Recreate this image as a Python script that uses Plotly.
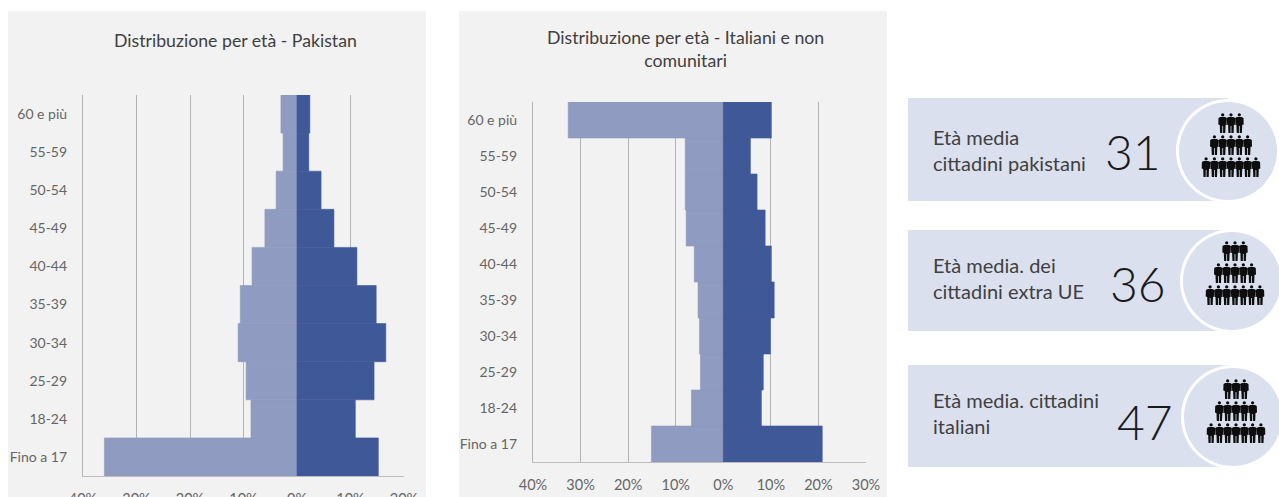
import math
import plotly.graph_objects as go

W, H = 1279, 497
FONT = "Lato"
TXT = "#404040"

age_groups = ["Fino a 17", "18-24", "25-29", "30-34", "35-39", "40-44", "45-49", "50-54", "55-59", "60 e più"]
pk_left = [-36.0, -8.6, -9.5, -11.0, -10.6, -8.4, -6.0, -3.9, -2.6, -3.0]
pk_right = [15.2, 10.9, 14.4, 16.6, 14.8, 11.2, 6.9, 4.5, 2.2, 2.4]
it_left = [-15.1, -6.7, -4.8, -5.0, -5.3, -6.1, -7.8, -8.0, -8.0, -32.6]
it_right = [20.8, 8.0, 8.4, 9.9, 10.7, 10.1, 8.8, 7.1, 5.7, 10.1]
pk_ticks = [-40, -30, -20, -10, 0, 10, 20]
pk_labels = ["40%", "30%", "20%", "10%", "0%", "10%", "20%"]
it_ticks = [-40, -30, -20, -10, 0, 10, 20, 30]
it_labels = ["40%", "30%", "20%", "10%", "0%", "10%", "20%", "30%"]
card_lines = [["Età media", "cittadini pakistani"], ["Età media. dei", "cittadini extra UE"], ["Età media. cittadini", "italiani"]]
card_values = ["31", "36", "47"]


def fx(x):
    return x / W


def fy(y):
    return 1 - y / H


def rect(x0, y0, x1, y1, color, layer="below"):
    return dict(type="rect", xref="paper", yref="paper", x0=fx(x0), x1=fx(x1), y0=fy(y1), y1=fy(y0),
                fillcolor=color, line_width=0, layer=layer)


def circle(cx, cy, r, color):
    return dict(type="circle", xref="paper", yref="paper", x0=fx(cx - r), x1=fx(cx + r), y0=fy(cy + r), y1=fy(cy - r),
                fillcolor=color, line_width=0, layer="below")


def poly(x, y, pts):
    return "M" + " L".join(f"{fx(x + a):.5f},{fy(y + b):.5f}" for a, b in pts) + " Z "


def person(x, y):
    # small pictogram, about 8 px wide and 20 px tall, (x, y) = top centre
    head = [(1.7 * math.cos(k * math.pi / 4), 1.9 + 1.7 * math.sin(k * math.pi / 4)) for k in range(8)]
    body = [(-2.4, 4), (2.4, 4), (4.2, 5), (4.4, 11.5), (2.9, 12), (2.6, 20), (0.4, 20), (0.4, 13), (-0.4, 13),
            (-0.4, 20), (-2.6, 20), (-2.9, 12), (-4.4, 11.5), (-4.2, 5)]
    return poly(x, y, head) + poly(x, y, body)


def icon(cx, top):
    path = ""
    for n, dy in ((3, 0), (5, 22), (7, 44)):
        for i in range(n):
            path += person(cx + (i - (n - 1) / 2) * 8.3, top + dy)
    return dict(type="path", xref="paper", yref="paper", path=path, fillcolor="#0d0d0d", line_width=0, layer="above")


fig = go.Figure()


def add_panel(left, right, xa, ya, rng, ticks, labels):
    for vals, col in ((left, "#8f9bc0"), (right, "#3f5998")):
        fig.add_trace(go.Bar(y=age_groups, x=vals, orientation="h", marker=dict(color=col, line=dict(color=col, width=0.6)),
                             width=1, xaxis=xa, yaxis=ya, showlegend=False, hoverinfo="skip"))
    return dict(range=rng, tickvals=ticks, ticktext=labels, showgrid=True, gridcolor="#b3b3b3", gridwidth=1.2,
                zeroline=False, showline=True, linecolor="#bdbdbd", linewidth=1.2, ticks="", automargin=False,
                ticklabelstandoff=9, tickfont=dict(family=FONT, size=14.5, color="#666666"))


x1 = add_panel(pk_left, pk_right, "x", "y", [-40, 20], pk_ticks, pk_labels)
x2 = add_panel(it_left, it_right, "x2", "y2", [-40, 30], it_ticks, it_labels)


def yaxis(anchor):
    return dict(anchor=anchor, type="category", categoryorder="array", categoryarray=age_groups, showline=True,
                linecolor="#b3b3b3", linewidth=1.2, showgrid=False, ticks="", ticklabelstandoff=12, automargin=False,
                tickfont=dict(family=FONT, size=14, color="#666666"))


shapes = [rect(8, 11, 426, 497, "#f2f2f2"), rect(459, 11, 887, 497, "#f2f2f2")]
anns = [
    dict(text="Distribuzione per età - Pakistan", x=fx(235), y=fy(41), font_size=17.7),
    dict(text="Distribuzione per età - Italiani e non<br>comunitari", x=fx(685), y=fy(49), font_size=17.7),
]

cards = [(98, 201, 1228, 151, 113), (230, 331, 1232, 281, 241), (365, 467, 1233, 417, 379)]
text_y = [150, 278, 413]
num_x = [1133, 1138, 1145]
num_y = [151, 283, 421]
for (y0, y1, cx, cy, top), lines, val, ty, nx, ny in zip(cards, card_lines, card_values, text_y, num_x, num_y):
    shapes += [rect(908, y0, cx, y1, "#dbe0ef"), circle(cx, cy, 52, "#ffffff"), circle(cx, cy, 49, "#dbe0ef"),
               icon(cx + 3, top)]
    anns.append(dict(text="<br>".join(lines), x=fx(931), y=fy(ty), xanchor="left", align="left", font_size=20))
    anns.append(dict(text=val, x=fx(nx), y=fy(ny), font_size=48))

for a in anns:
    a.update(xref="paper", yref="paper", showarrow=False)
    a.setdefault("xanchor", "center")
    a["yanchor"] = "middle"
    a["font"] = dict(family=FONT, size=a.pop("font_size"), color=TXT if a["text"] not in card_values else "#1a1a1a",
                     weight=300 if a["text"] in card_values else 400)

fig.update_layout(
    template="none",
    width=W, height=H, margin=dict(l=0, r=0, t=0, b=0, pad=0), autosize=False,
    paper_bgcolor="#ffffff", plot_bgcolor="rgba(0,0,0,0)", barmode="overlay",
    xaxis=dict(domain=[fx(83), fx(404)], anchor="y", **x1),
    yaxis=dict(domain=[fy(476), fy(95)], **yaxis("x")),
    xaxis2=dict(domain=[fx(533), fx(866)], anchor="y2", **x2),
    yaxis2=dict(domain=[fy(462), fy(102)], **yaxis("x2")),
    shapes=shapes, annotations=anns,
)
fig.write_html("out.html", config={"displayModeBar": False},
               post_script="document.body.style.margin='0';document.body.style.overflow='hidden';window.dispatchEvent(new Event('resize'));")
